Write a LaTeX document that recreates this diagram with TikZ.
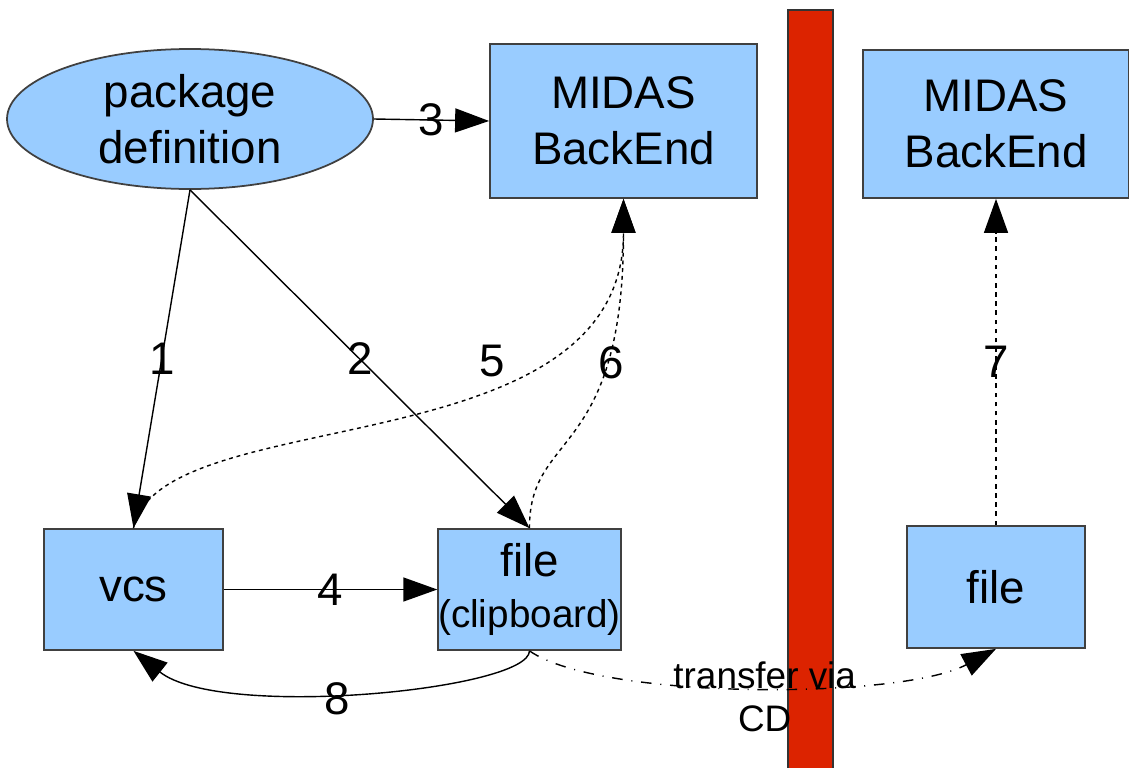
\documentclass[tikz,border=0pt]{standalone}
\usepackage{fontspec}
\setmainfont{Liberation Sans}
\usepackage{tikz}
\usepackage{xcolor}
\usetikzlibrary{shapes.geometric,arrows.meta}
\definecolor{boxblue}{HTML}{99CCFF}
\definecolor{barred}{HTML}{DC2300}

\begin{document}
\begin{tikzpicture}[font=\fontsize{13}{16}\selectfont, line width=0.4pt,
  box/.style={draw=black!75, fill=boxblue, inner sep=0pt, align=center, line width=0.5pt},
  conn/.style={-{Triangle[length=0.34cm,width=0.24cm]}},
  num/.style={inner sep=1pt}]
  \useasboundingbox (0,0) rectangle (11.29,7.67);
  \draw[draw=black!80, fill=barred, line width=0.5pt] (7.88,-0.1) rectangle (8.33,7.57);
  \node[box, ellipse, minimum width=3.66cm, minimum height=1.40cm] (pkg) at (1.90,6.48) {package\\definition};
  \node[box, minimum width=2.67cm, minimum height=1.54cm] (backend) at (6.235,6.46) {MIDAS\\BackEnd};
  \node[box, minimum width=2.66cm, minimum height=1.48cm] (backend2) at (9.96,6.43) {MIDAS\\BackEnd};
  \node[box, minimum width=1.79cm, minimum height=1.21cm] (vcs) at (1.335,1.775) {vcs};
  \node[box, minimum width=1.77cm, minimum height=1.21cm] (file) at (5.295,1.775) {file\\[-1.5pt]\fontsize{11}{13}\selectfont (clipboard)};
  \node[box, minimum width=1.78cm, minimum height=1.22cm] (file2) at (9.96,1.80) {file};
  \draw[conn, dash pattern=on 1.1pt off 1.1pt] (vcs.north) .. controls (1.60,3.67) and (6.235,2.97) .. (backend.south) node[num, pos=0.65, above] {5};
  \draw[conn, dash pattern=on 1.1pt off 1.1pt] (file.north) .. controls (5.29,3.37) and (6.235,3.07) .. (backend.south) node[num, pos=0.71, xshift=0.07cm] {6};
  \draw[conn] (pkg.south) -- (vcs.north) node[num, midway] {1};
  \draw[conn] (pkg.south) -- (file.north) node[num, midway] {2};
  \draw[conn] (pkg.east) -- (backend.west) node[num, midway] {3};
  \draw[conn] (vcs.east) -- (file.west) node[num, midway] {4};
  \draw[conn, dash pattern=on 1.3pt off 1.3pt] (file2.north) -- (backend2.south) node[num, midway] {7};
  \draw[conn] (file.south) .. controls (5.29,0.77) and (2.20,0.47) .. (vcs.south) node[num, pos=0.55, yshift=-0.07cm] {8};
  \draw[conn, dash pattern=on 3pt off 2.5pt on 0.3pt off 2.5pt] (file.south) .. controls (6.00,0.67) and (9.00,0.67) .. (file2.south)
    node[pos=0.52, yshift=-0.09cm, align=center, font=\fontsize{10.5}{12.2}\selectfont] {transfer via\\CD};
\end{tikzpicture}
\end{document}
